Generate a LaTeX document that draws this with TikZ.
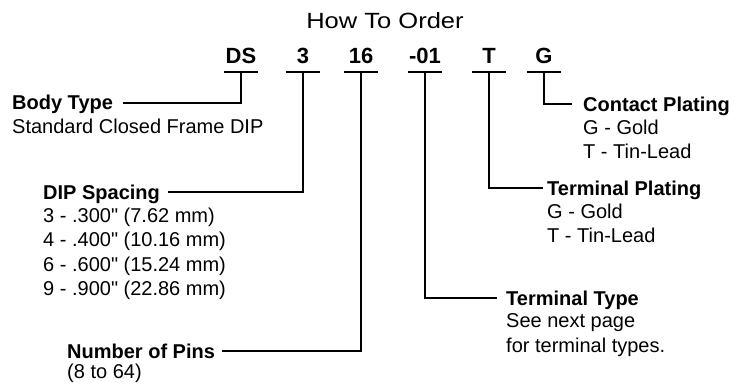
\documentclass[tikz,border=0pt]{standalone}
\usepackage{fontspec}
\setmainfont{Liberation Sans}
\usetikzlibrary{positioning}

\begin{document}
\begin{tikzpicture}[
            x = 1pt, y = -1pt, % pixel units, y runs downwards
            lead/.style = {line width = 1.6pt}, % leader line style
            title/.style = {font = \fontsize{22}{26}\selectfont\addfontfeature{FakeStretch=1.16}, anchor = base, inner sep = 0pt},
            code/.style = {font = \fontsize{22}{26}\selectfont\bfseries, anchor = base,
                inner xsep = 0pt, inner ysep = 8pt, text depth = 0pt, minimum width = 34pt},
            head/.style = {font = \fontsize{20}{24}\selectfont\bfseries, anchor = base west,
                inner sep = 0pt, text height = 14pt, text depth = 0pt},
            desc/.style = {font = \fontsize{20}{24.5}\selectfont, anchor = north west,
                inner sep = 0pt, align = left}
        ]

        \useasboundingbox (0,0) rectangle (743,385);

        \node[title] (order) at (385,29) {How To Order};

        % part number fields
        \node[code] (ds) at (241,64) {DS};
        \node[code] (sp) at (303,64) {3};
        \node[code] (np) at (361,64) {16};
        \node[code] (tt) at (425,64) {-01};
        \node[code] (tp) at (489,64) {T};
        \node[code] (cp) at (544,64) {G};

        % headings
        \node[head] (body) at (12,110) {Body Type};
        \node[head] (dip) at (43,199) {DIP Spacing};
        \node[head] (pins) at (67,358) {Number of Pins};
        \node[head] (cplat) at (583,111) {Contact Plating};
        \node[head] (tplat) at (547,195) {Terminal Plating};
        \node[head] (ttype) at (506,305) {Terminal Type};

        % descriptions
        \node[desc] (bodyd) at ([yshift=-8.5pt]body.base west) {Standard Closed Frame DIP};
        \node[desc] (dipd) at ([yshift=-8.5pt]dip.base west)
            {3 - .300\textquotedbl{} (7.62 mm)\\4 - .400\textquotedbl{} (10.16 mm)\\
             6 - .600\textquotedbl{} (15.24 mm)\\9 - .900\textquotedbl{} (22.86 mm)};
        \node[desc] (pinsd) at ([yshift=-5.5pt]pins.base west) {(8 to 64)};
        \node[desc] (cplatd) at ([yshift=-8.5pt]cplat.base west) {G - Gold\\T - Tin-Lead};
        \node[desc] (tplatd) at ([yshift=-8.5pt]tplat.base west) {G - Gold\\T - Tin-Lead};
        \node[desc] (ttyped) at ([yshift=-8.5pt]ttype.base west) {See next page\\for terminal types.};

        \foreach \c in {ds,sp,np,tt,tp,cp}
            \draw[lead] (\c.south west) -- (\c.south east);

        \draw[lead] (ds.south) |- ([xshift=10pt]body.east);
        \draw[lead] (sp.south) |- ([xshift=8pt]dip.east);
        \draw[lead] (np.south) |- ([xshift=7pt]pins.east);
        \draw[lead] (tt.south) |- ([xshift=-9pt]ttype.west);
        \draw[lead] (tp.south) |- ([xshift=-4pt]tplat.west);
        \draw[lead] (cp.south) |- ([xshift=-11pt]cplat.west);

  \end{tikzpicture}
\end{document}
